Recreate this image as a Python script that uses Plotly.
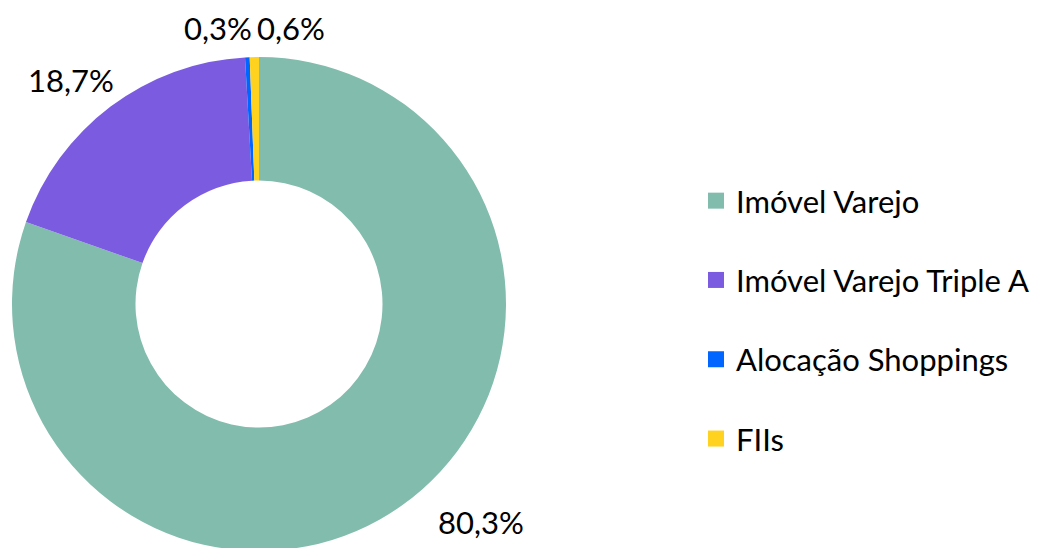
import plotly.graph_objects as go

categories = ["Imóvel Varejo", "Imóvel Varejo Triple A", "Alocação Shoppings", "FIIs"]
values = [80.3, 18.7, 0.3, 0.6]
colors = ["#82BCAD", "#7B5CE0", "#0066FF", "#FFD220"]
label_texts = [f"{v:.1f}%".replace(".", ",") for v in values]

W, H = 1049, 548
OFF = 8  # page body margin
FONT = "Lato, 'Noto Sans', sans-serif"
FS = 31

# pie geometry (screen pixels)
cx, cy, R = 259 - OFF, 304 - OFF, 247
# label anchor positions (screen pixels)
label_pos = [(481, 522), (71, 80), (218, 28), (291, 28)]

fig = go.Figure()
fig.add_trace(go.Pie(
    labels=categories, values=values, sort=False, direction="clockwise",
    rotation=0, hole=0.5, marker=dict(colors=colors, line=dict(width=0)),
    textinfo="none", hoverinfo="label+percent", showlegend=False,
    domain=dict(x=[(cx - R) / W, (cx + R) / W], y=[(H - cy - R) / H, (H - cy + R) / H]),
))

for i, (cat, col) in enumerate(zip(categories, colors)):
    fig.add_trace(go.Scatter(
        x=[None], y=[None], mode="markers", name=cat, legendgroup=str(i),
        marker=dict(symbol="square", size=18, color=col), showlegend=True,
    ))

for txt, (px, py) in zip(label_texts, label_pos):
    fig.add_annotation(x=(px - OFF) / W, y=1 - (py - OFF) / H, xref="paper", yref="paper",
                       text=txt, showarrow=False, xanchor="center", yanchor="middle",
                       font=dict(size=FS, color="#000000", family=FONT))

fig.update_layout(
    width=W, height=H, margin=dict(l=0, r=0, t=0, b=0),
    paper_bgcolor="white", plot_bgcolor="white",
    xaxis=dict(visible=False), yaxis=dict(visible=False),
    font=dict(family=FONT, size=FS, color="#000000"),
    legend=dict(x=688 / W, y=1 - 166 / H, xanchor="left", yanchor="top",
                traceorder="grouped", tracegroupgap=36, itemsizing="trace",
                font=dict(size=FS, color="#000000", family=FONT)),
)

fig.write_html("out.html")
